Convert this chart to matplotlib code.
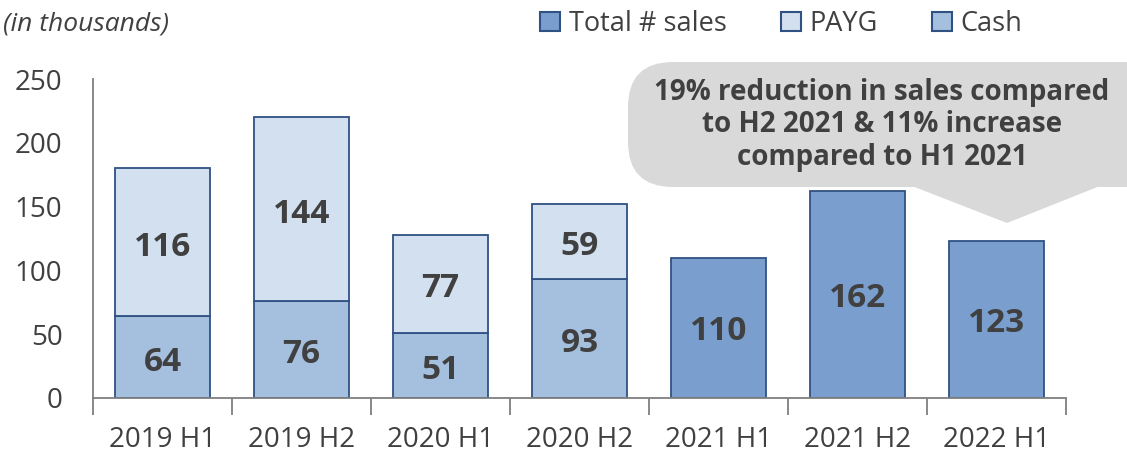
import matplotlib.pyplot as plt
import numpy as np
from matplotlib.patches import FancyBboxPatch, Polygon, Patch

plt.rcParams['font.family'] = ['Open Sans', 'DejaVu Sans']

# data (thousands of units)
periods = ['2019 H1', '2019 H2', '2020 H1', '2020 H2', '2021 H1', '2021 H2', '2022 H1']
cash = [64, 76, 51, 93, 0, 0, 0]
payg = [116, 144, 77, 59, 0, 0, 0]
total = [0, 0, 0, 0, 110, 162, 123]

c_total = '#7A9FCE'
c_payg = '#D3E0EF'
c_cash = '#A5BFDF'
c_edge = '#2F5283'
txt = '#404040'

W, H = 1127, 455
fig = plt.figure(figsize=(W / 100, H / 100), dpi=100)
ax = fig.add_axes([93 / W, 57 / H, (1066 - 93) / W, (398 - 79) / H])

x = np.arange(len(periods))
bw = 0.68
ax.bar(x, cash, bw, color=c_cash, edgecolor=c_edge, linewidth=1.3)
ax.bar(x, payg, bw, bottom=cash, color=c_payg, edgecolor=c_edge, linewidth=1.3)
ax.bar(x, total, bw, color=c_total, edgecolor=c_edge, linewidth=1.3)

lbl = dict(ha='center', va='center', fontsize=24, fontweight='bold', color=txt)
for i in range(len(periods)):
    if cash[i]:
        ax.text(x[i], cash[i] / 2 - 4, str(cash[i]), **lbl)
    if payg[i]:
        ax.text(x[i], cash[i] + payg[i] / 2 - 4, str(payg[i]), **lbl)
    if total[i]:
        ax.text(x[i], total[i] / 2 - 3, str(total[i]), **lbl)

ax.set_xlim(-0.5, len(periods) - 0.5)
ax.set_ylim(0, 250)
ax.set_yticks([0, 50, 100, 150, 200, 250])
ax.set_xticks(x)
ax.set_xticklabels(periods)
ax.set_xticks(np.arange(-0.5, len(periods)), minor=True)
ax.tick_params(axis='x', which='major', length=0, pad=20, labelsize=20, labelcolor=txt)
ax.tick_params(axis='x', which='minor', length=12, width=1.3, color='#7f7f7f', direction='out')
ax.tick_params(axis='y', length=0, pad=22, labelsize=20, labelcolor=txt)
for s in ['top', 'right']:
    ax.spines[s].set_visible(False)
for s in ['left', 'bottom']:
    ax.spines[s].set_color('#7f7f7f')
    ax.spines[s].set_linewidth(1.3)

fig.text(3 / W, 1 - 24 / H, '(in thousands)', ha='left', va='center',
         fontsize=19, style='italic', color=txt)

handles = [Patch(facecolor=c_total, edgecolor=c_edge, linewidth=1.5),
           Patch(facecolor=c_payg, edgecolor=c_edge, linewidth=1.5),
           Patch(facecolor=c_cash, edgecolor=c_edge, linewidth=1.5)]
fig.legend(handles, ['Total # sales', 'PAYG', 'Cash'], loc='center',
           bbox_to_anchor=(781 / W, 1 - 24 / H), ncol=3, frameon=False,
           fontsize=19.5, handlelength=0.75, handleheight=0.75, handletextpad=0.3,
           columnspacing=2.0, labelcolor=txt)

# callout
box = FancyBboxPatch((628 / W, 1 - 187 / H), 540 / W, 125 / H,
                     boxstyle='round,pad=0,rounding_size=0.04',
                     transform=fig.transFigure, facecolor='#D9D9D9', edgecolor='none',
                     mutation_aspect=W / H)
fig.patches.append(box)
tri = Polygon([(912 / W, 1 - 186 / H), (1007 / W, 1 - 223 / H), (1100 / W, 1 - 186 / H)],
              closed=True, transform=fig.transFigure, facecolor='#D9D9D9', edgecolor='none')
fig.patches.append(tri)
fig.text(882 / W, 1 - 125 / H,
         '19% reduction in sales compared\nto H2 2021 & 11% increase\ncompared to H1 2021',
         ha='center', va='center', fontsize=20, fontweight='bold', color=txt,
         linespacing=1.15)

fig.savefig('out.png', dpi=100)
